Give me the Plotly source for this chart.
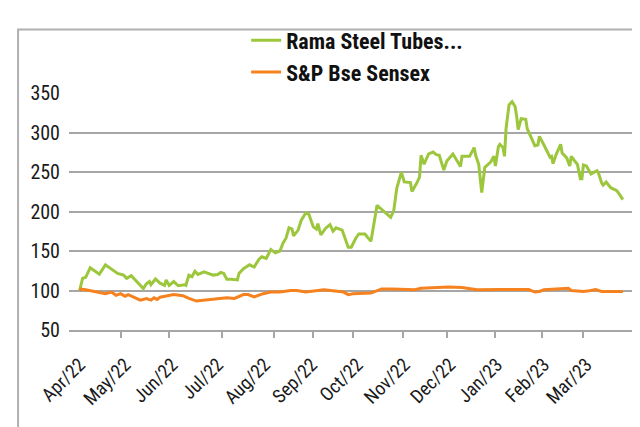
import plotly.graph_objects as go

rama_dates = [
    "2022-04-01", "2022-04-03", "2022-04-05", "2022-04-08", "2022-04-11", "2022-04-14", "2022-04-18",
    "2022-04-23", "2022-04-26", "2022-04-30", "2022-05-02", "2022-05-05", "2022-05-09", "2022-05-13",
    "2022-05-15", "2022-05-17", "2022-05-18", "2022-05-21", "2022-05-24", "2022-05-27", "2022-05-28",
    "2022-05-30", "2022-06-02", "2022-06-05", "2022-06-09", "2022-06-10", "2022-06-12", "2022-06-14",
    "2022-06-16", "2022-06-18", "2022-06-22", "2022-06-28", "2022-07-01", "2022-07-03", "2022-07-05",
    "2022-07-07", "2022-07-10", "2022-07-14", "2022-07-15", "2022-07-18", "2022-07-22", "2022-07-25",
    "2022-07-28", "2022-07-30", "2022-08-02", "2022-08-05", "2022-08-08", "2022-08-11", "2022-08-13",
    "2022-08-15", "2022-08-17", "2022-08-19", "2022-08-20", "2022-08-23", "2022-08-25", "2022-08-28",
    "2022-08-30", "2022-09-02", "2022-09-04", "2022-09-05", "2022-09-07", "2022-09-10", "2022-09-13",
    "2022-09-15", "2022-09-17", "2022-09-21", "2022-09-25", "2022-09-27", "2022-09-30", "2022-10-02",
    "2022-10-06", "2022-10-10", "2022-10-14", "2022-10-17", "2022-10-19", "2022-10-23", "2022-10-25",
    "2022-10-27", "2022-10-30", "2022-11-01", "2022-11-05", "2022-11-06", "2022-11-09", "2022-11-11",
    "2022-11-12", "2022-11-14", "2022-11-17", "2022-11-20", "2022-11-22", "2022-11-24", "2022-11-27",
    "2022-11-29", "2022-12-03", "2022-12-06", "2022-12-08", "2022-12-09", "2022-12-14", "2022-12-17",
    "2022-12-18", "2022-12-20", "2022-12-22", "2022-12-24", "2022-12-28", "2022-12-30", "2022-12-31",
    "2023-01-02", "2023-01-03", "2023-01-05", "2023-01-06", "2023-01-07", "2023-01-09", "2023-01-11",
    "2023-01-13", "2023-01-14", "2023-01-15", "2023-01-17", "2023-01-20", "2023-01-21", "2023-01-24",
    "2023-01-26", "2023-01-28", "2023-01-29", "2023-02-01", "2023-02-03", "2023-02-05", "2023-02-06",
    "2023-02-07", "2023-02-09", "2023-02-12", "2023-02-13", "2023-02-16", "2023-02-18", "2023-02-19",
    "2023-02-21", "2023-02-23", "2023-02-25", "2023-02-26", "2023-02-27", "2023-03-01", "2023-03-04",
    "2023-03-08", "2023-03-09", "2023-03-11", "2023-03-12", "2023-03-14", "2023-03-17", "2023-03-21",
    "2023-03-23", "2023-03-25",
]
rama_values = [
    100, 115.5, 116.7, 128.9, 124.8, 120.7, 132.5,
    125.6, 121.6, 119.5, 115.5, 118.7, 110, 102.4,
    108.5, 111.3, 107.3, 114.6, 109.3, 106.5, 113.4,
    106.5, 111.3, 106, 107.3, 106.5, 119.5, 117.4,
    124.4, 120.3, 123.5, 119.5, 120.3, 122.8, 121.6,
    114.3, 114.3, 113.4, 121.6, 127.7, 132.5, 129.7,
    139, 142.7, 140.6, 152, 147.6, 150, 160,
    166.2, 179.3, 177.7, 169.1, 176.5, 188.7, 198,
    196.8, 180.5, 177.7, 184.5, 170.4, 178.5, 183.4,
    175.2, 179.3, 176.5, 154.9, 154.9, 166.2, 171.6,
    171.6, 162.2, 207.8, 203, 198.8, 192.7, 200.8,
    229.3, 249.6, 237.4, 236.6, 225.2, 235.4, 243.5,
    271.1, 259.8, 272.8, 275.2, 272, 271.1, 252.4,
    263.8, 272.8, 263, 256.9, 269.8, 269.8, 280.9,
    271.1, 259.8, 224, 255.7, 263, 269.8, 257.7,
    282.1, 285, 280.9, 269.8, 304.5, 335, 339,
    332.9, 320.7, 303.7, 317.5, 316.7, 304.5, 292.3,
    283.3, 284.1, 295.1, 284.1, 276, 268.7, 269.8,
    260.6, 272, 285, 274, 267.9, 257.7, 269.8,
    264.6, 259.8, 241.5, 241.5, 258.9, 257.7, 247.6,
    251.6, 248.4, 236.2, 233.3, 237.4, 230.1, 226.5,
    221.1, 215,
]

sensex_dates = [
    "2022-04-01", "2022-04-02", "2022-04-05", "2022-04-12", "2022-04-18", "2022-04-22", "2022-04-25",
    "2022-04-28", "2022-05-01", "2022-05-03", "2022-05-11", "2022-05-15", "2022-05-18", "2022-05-20",
    "2022-05-22", "2022-05-24", "2022-06-02", "2022-06-08", "2022-06-12", "2022-06-17", "2022-06-26",
    "2022-07-07", "2022-07-12", "2022-07-18", "2022-07-21", "2022-07-25", "2022-07-31", "2022-08-05",
    "2022-08-11", "2022-08-18", "2022-08-22", "2022-08-28", "2022-09-09", "2022-09-13", "2022-09-22",
    "2022-09-25", "2022-09-28", "2022-10-10", "2022-10-17", "2022-10-24", "2022-11-08", "2022-11-12",
    "2022-11-26", "2022-11-30", "2022-12-09", "2022-12-14", "2022-12-19", "2023-01-03", "2023-01-22",
    "2023-01-26", "2023-01-29", "2023-02-01", "2023-02-13", "2023-02-17", "2023-02-19", "2023-02-27",
    "2023-03-03", "2023-03-07", "2023-03-11", "2023-03-25",
]
sensex_values = [
    100, 101.7, 100.9, 98, 96, 98, 93.9,
    96, 92.7, 94.8, 87.8, 89.9, 87.8, 90.7,
    88.7, 91.5, 94.8, 93.5, 89.9, 86.6, 88.7,
    90.7, 89.9, 94.8, 94.8, 91.9, 96, 98,
    98, 100, 100, 98, 100.9, 100, 98,
    94.8, 96, 96.8, 102, 102, 100.9, 102.9,
    104.1, 104.5, 103.7, 102, 100.9, 101.2, 101.2,
    98, 98.8, 100.9, 102, 102.9, 100, 98.8,
    99.6, 101.2, 98.8, 98.8,
]

series_names = ["Rama Steel Tubes...", "S&P Bse Sensex"]
y_ticks = [50, 100, 150, 200, 250, 300, 350]
month_ticks = [
    "2022-04-01", "2022-05-01", "2022-06-01", "2022-07-01", "2022-08-01", "2022-09-01",
    "2022-10-01", "2022-11-01", "2022-12-01", "2023-01-01", "2023-02-01", "2023-03-01",
]
month_labels = ["Apr/22", "May/22", "Jun/22", "Jul/22", "Aug/22", "Sep/22",
                "Oct/22", "Nov/22", "Dec/22", "Jan/23", "Feb/23", "Mar/23"]
tick_mark_dates = [
    "2022-04-28", "2022-05-30", "2022-07-04", "2022-08-07", "2022-09-02", "2022-09-28",
    "2022-10-31", "2022-11-29", "2022-12-31", "2023-01-31", "2023-02-27",
]

GREEN = "#9cc73c"
ORANGE = "#f5821f"
GRID = "#a6a6a6"
FONT = "Roboto Condensed, Roboto, sans-serif"

fig = go.Figure()
fig.add_trace(go.Scatter(x=rama_dates, y=rama_values, mode="lines", name=series_names[0],
                         line=dict(color=GREEN, width=3)))
fig.add_trace(go.Scatter(x=sensex_dates, y=sensex_values, mode="lines", name=series_names[1],
                         line=dict(color=ORANGE, width=3)))

fig.update_layout(
    width=640, height=427,
    margin=dict(l=61, r=13, t=76, b=105),
    paper_bgcolor="white", plot_bgcolor="white",
    font=dict(family=FONT, color="#1a1a1a", size=19),
    showlegend=True,
    legend=dict(x=0.313, xanchor="left", y=1.31, yanchor="top", orientation="v",
                font=dict(size=22, family=FONT, weight="bold", color="#111111"),
                bgcolor="rgba(0,0,0,0)", tracegroupgap=0),
    xaxis=dict(type="date", range=["2022-03-25", "2023-04-02"],
               tickmode="array", tickvals=month_ticks, ticktext=month_labels, tickangle=-45,
               showgrid=False, showline=True, linecolor=GRID, linewidth=2,
               ticks="", ticklabelstandoff=14, tickfont=dict(size=19, family=FONT, color="#1a1a1a"),
               minor=dict(tickmode="array", tickvals=tick_mark_dates, ticks="outside",
                          ticklen=6, tickcolor=GRID, tickwidth=1.5, showgrid=False)),
    yaxis=dict(range=[50, 350], tickvals=y_ticks, showgrid=True, gridcolor=GRID, gridwidth=2,
               zeroline=False, showline=False, ticks="", ticklabelstandoff=8,
               tickfont=dict(size=20, family=FONT, color="#1a1a1a")),
    shapes=[dict(type="rect", xref="paper", yref="paper", x0=-0.09, x1=1.05, y0=-0.47, y1=1.268,
                 line=dict(color="#b0b0b0", width=2), fillcolor="rgba(0,0,0,0)", layer="below")],
)

fig.write_html("out.html")
